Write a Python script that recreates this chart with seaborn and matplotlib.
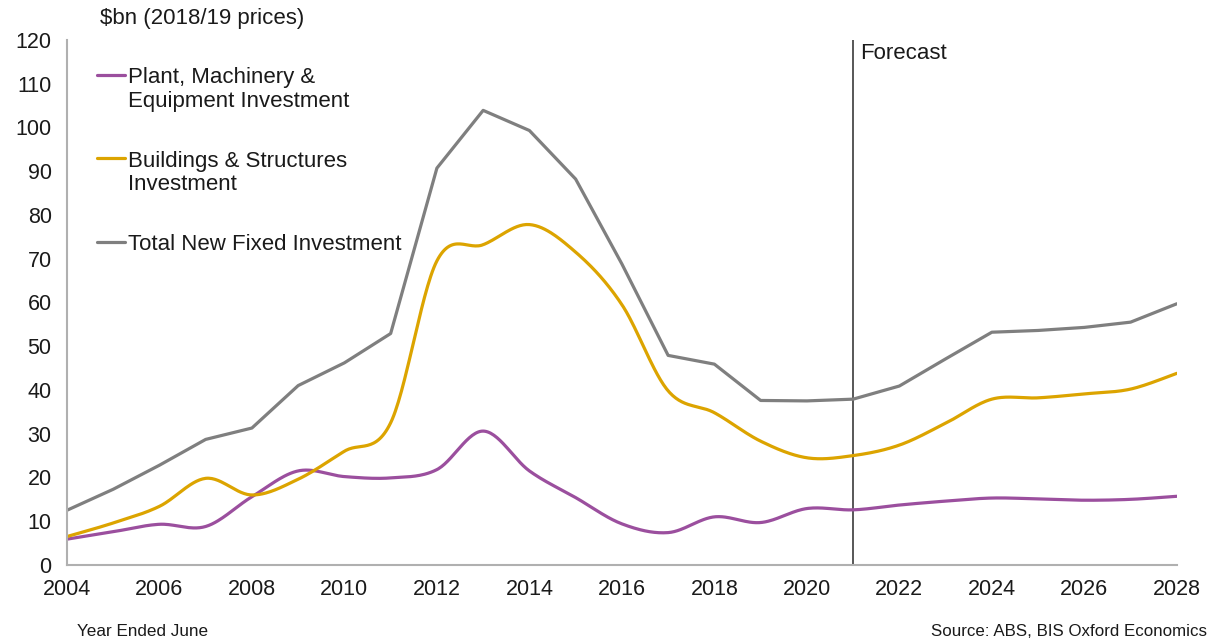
import numpy as np
import pandas as pd
import matplotlib
matplotlib.use("Agg")
import matplotlib.pyplot as plt
import seaborn as sns

years = list(range(2004, 2029))

plant = [5.9, 7.6, 9.3, 8.8, 15.6, 21.5, 20.2, 19.9, 21.8, 30.6, 21.5, 15.4,
         9.4, 7.4, 11.0, 9.7, 12.9, 12.6, 13.7, 14.6, 15.3, 15.1, 14.8, 15.0, 15.7]
buildings = [6.5, 9.6, 13.4, 19.8, 16.0, 19.6, 26.0, 32.5, 69.5, 73.2, 77.8, 71.5,
             59.5, 39.8, 34.8, 28.3, 24.5, 25.0, 27.4, 32.4, 37.9, 38.2, 39.1, 40.2, 43.8]
total = [12.5, 17.3, 22.8, 28.7, 31.3, 41.0, 46.2, 52.9, 90.7, 103.9, 99.3, 88.2,
         68.8, 47.9, 45.9, 37.6, 37.5, 37.9, 40.9, 47.1, 53.2, 53.6, 54.3, 55.5, 59.7]

labels = ["Plant, Machinery &\nEquipment Investment",
          "Buildings & Structures\nInvestment",
          "Total New Fixed Investment"]
colors = ["#9b4f9e", "#dca400", "#7f7f7f"]
forecast_year = 2021


def smooth(x, y, n=30):
    # Catmull-Rom style bezier, like a spreadsheet's smoothed line
    x = np.asarray(x, float)
    y = np.asarray(y, float)
    xp = np.concatenate([[x[0]], x, [x[-1]]])
    yp = np.concatenate([[y[0]], y, [y[-1]]])
    xs, ys = [], []
    t = np.linspace(0, 1, n, endpoint=False)
    for i in range(1, len(xp) - 2):
        p0 = np.array([xp[i], yp[i]])
        p3 = np.array([xp[i + 1], yp[i + 1]])
        c1 = p0 + (np.array([xp[i + 1], yp[i + 1]]) - np.array([xp[i - 1], yp[i - 1]])) / 6
        c2 = p3 - (np.array([xp[i + 2], yp[i + 2]]) - np.array([xp[i], yp[i]])) / 6
        pts = ((1 - t)[:, None] ** 3 * p0 + 3 * ((1 - t) ** 2 * t)[:, None] * c1
               + 3 * ((1 - t) * t ** 2)[:, None] * c2 + (t ** 3)[:, None] * p3)
        xs.extend(pts[:, 0])
        ys.extend(pts[:, 1])
    xs.append(x[-1])
    ys.append(y[-1])
    return np.array(xs), np.array(ys)


sns.set_style("white")
plt.rcParams["font.family"] = ["Liberation Sans", "DejaVu Sans"]

fig = plt.figure(figsize=(12.17, 6.44), dpi=100)
ax = fig.add_axes([0.055, 0.1227, 0.912, 0.8153])

px, py = smooth(years, plant)
bx, by = smooth(years, buildings)
sns.lineplot(x=px, y=py, ax=ax, color=colors[0], lw=2.3, label=labels[0],
             sort=False, estimator=None)
sns.lineplot(x=bx, y=by, ax=ax, color=colors[1], lw=2.3, label=labels[1],
             sort=False, estimator=None)
sns.lineplot(x=years, y=total, ax=ax, color=colors[2], lw=2.3, label=labels[2],
             sort=False, estimator=None)

ax.axvline(forecast_year, ymin=0, ymax=1, color="#4a4a4a", lw=1.3, zorder=1)
ax.text(forecast_year + 0.15, 117.0, "Forecast", fontsize=16, color="#1a1a1a",
        va="center", ha="left")

ax.set_xlim(2004, 2028)
ax.set_ylim(0, 120)
ax.set_yticks(range(0, 121, 10))
ax.set_xticks(range(2004, 2029, 2))
ax.set_xticks(range(2005, 2028, 2), minor=True)
ax.tick_params(axis="both", which="both", direction="out", length=6,
               color="#b0b0b0", width=1.2, labelsize=15.5, labelcolor="#1a1a1a")
ax.tick_params(axis="x", pad=4)
ax.tick_params(axis="y", pad=5)
ax.set_xlabel("")
ax.set_ylabel("")

for side in ["top", "right"]:
    ax.spines[side].set_visible(False)
for side in ["left", "bottom"]:
    ax.spines[side].set_color("#b0b0b0")
    ax.spines[side].set_linewidth(1.5)

leg = ax.legend(loc="upper left", bbox_to_anchor=(0.027, 0.948), frameon=False,
                fontsize=16, handlelength=1.25, handletextpad=0.15,
                labelspacing=1.75, borderaxespad=0, borderpad=0)
# put each legend line next to the first line of its label
for col in leg._legend_handle_box.get_children():
    for item in col.get_children():
        item.align = "top"
for t in leg.get_texts():
    t.set_color("#1a1a1a")
    t.set_linespacing(1.15)

fig.text(0.082, 0.972, "$bn (2018/19 prices)", fontsize=16, color="#1a1a1a",
         va="center", ha="left")
fig.text(0.063, 0.019, "Year Ended June", fontsize=12.3, color="#1a1a1a",
         va="center", ha="left")
fig.text(0.992, 0.019, "Source: ABS, BIS Oxford Economics", fontsize=12.2,
         color="#1a1a1a", va="center", ha="right")

fig.savefig("out.png", dpi=100)
